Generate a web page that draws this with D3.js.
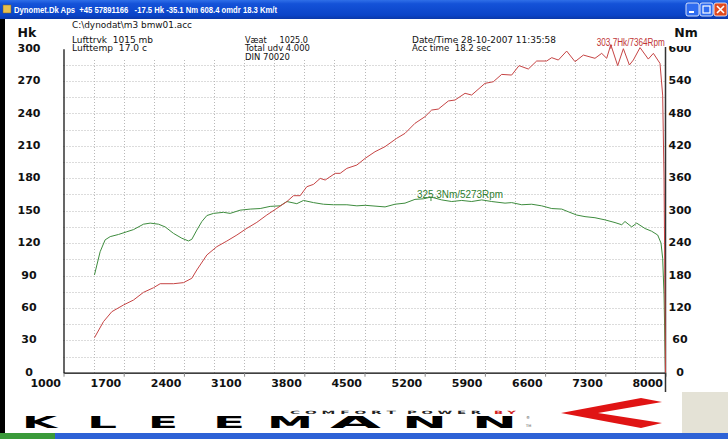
<!DOCTYPE html>
<html>
<head>
<meta charset="utf-8">
<script src="https://cdn.jsdelivr.net/npm/d3@7"></script>
<style>
  html, body { margin: 0; padding: 0; background: #fff; }
  svg { display: block; }
  text { white-space: pre; }
</style>
</head>
<body>
<svg id="chart" width="728" height="439"></svg>
<script>
// ---------------- DATA ----------------
const titleText = "Dynomet.Dk Aps  +45 57891166   -17.5 Hk -35.1 Nm 608.4 omdr 18.3 Km/t";
const fileName = "C:\\dynodat\\m3 bmw01.acc";

const xTicks = [1000, 1700, 2400, 3100, 3800, 4500, 5200, 5900, 6600, 7300, 8000];
const hkTicks = [0, 30, 60, 90, 120, 150, 180, 210, 240, 270, 300];
const nmTicks = [0, 60, 120, 180, 240, 300, 360, 420, 480, 540, 600];

const powerRpm = [1360,1465,1562,1698,1814,1930,2047,2124,2279,2395,2492,2550,2667,2783,2899,3016,3132,3248,3364,3481,3597,3674,3752,3829,3907,3985,4043,4159,4217,4295,4411,4508,4622,4739,4874,4971,5087,5204,5281,5359,5475,5553,5669,5746,5901,5998,6095,6211,6297,6405,6502,6618,6677,6754,6851,6948,7045,7180,7258,7316,7364,7444,7510,7580,7626,7704,7800,7859,7936,7967,7983,7995,8000];
const powerHk = [32.4,47.3,56.5,62.7,67.3,74.4,78.7,82.4,82.4,83.4,87.4,95.1,109,116.7,121.9,127.5,133.7,139.2,146,152.2,158.4,163.9,163.9,172.2,174.4,179.9,178.4,184.6,184.6,189.2,192.3,198.5,204.6,209.3,217,221.6,230.9,237.1,243.2,244.1,251.6,252.5,258.7,257.1,267.9,269.4,276.2,275.6,284.3,281.2,288.6,288.6,291.7,289.5,297.8,288,294.1,291.1,295.7,291.1,303.7,284.3,300,284.9,289.5,301,290.4,295.7,286.4,257,180,60,0];

const torqueRpm = [1360,1426,1484,1543,1640,1736,1814,1930,2008,2105,2182,2279,2376,2453,2492,2550,2609,2667,2744,2860,2938,3054,3171,3287,3403,3519,3597,3713,3791,3907,4023,4140,4295,4411,4508,4739,4855,4971,5087,5184,5273,5397,5514,5630,5746,5863,5979,6134,6211,6328,6444,6560,6677,6793,6870,6967,7064,7180,7297,7413,7491,7529,7607,7665,7762,7839,7909,7948,7967,7983,7995,8000];
const torqueNm = [181,224,246,252,256,261,265,275,277,275,270,258,249,244,247,264,280,291,295,297,295,301,303,304,308,309,317,313,319,315,312,311,311,309,310,307,312,314,321,322,325.3,320,317,319,317,320,317,314,315,311,312,309,304,303,298,292,289,287,283,278,274,280,270,277,267,262,255,240,212,144,40,0];

const peakPower = {rpm: 7364, value: 303.7, label: "303.7Hk/7364Rpm"};
const peakTorque = {rpm: 5273, value: 325.3, label: "325.3Nm/5273Rpm"};

const headerLines = [
  {x: 72,  y: 28, t: fileName, w: 120},
  {x: 72,  y: 43, t: "Lufttrvk  1015 mb", w: 81},
  {x: 72,  y: 51, t: "Lufttemp  17.0 c", w: 75},
  {x: 245, y: 43, t: "Væat     1025.0", w: 63},
  {x: 245, y: 51, t: "Total udv 4.000", w: 65},
  {x: 245, y: 60, t: "DIN 70020", w: 45},
  {x: 412, y: 43, t: "Date/Time 28-10-2007 11:35:58", w: 144},
  {x: 412, y: 51, t: "Acc time  18.2 sec", w: 79}
];

const logoLetters = [
  {t: "K", x: 22, w: 35}, {t: "L", x: 87, w: 30}, {t: "E", x: 148, w: 30},
  {t: "E", x: 213, w: 32}, {t: "M", x: 267, w: 46}, {t: "A", x: 330, w: 51},
  {t: "N", x: 402, w: 45}, {t: "N", x: 472, w: 45}
];

// ---------------- DRAW ----------------
const svg = d3.select("#chart");
const W = 728, H = 439;

const x = d3.scaleLinear().domain([1000, 8000]).range([63.5, 665.5]);
const yHk = d3.scaleLinear().domain([0, 300]).range([372.7, 48.7]);
const yNm = d3.scaleLinear().domain([0, 600]).range([372.7, 48.7]);

svg.append("rect").attr("width", W).attr("height", H).attr("fill", "#fff");

// Title bar
const defs = svg.append("defs");
const tg = defs.append("linearGradient").attr("id", "tb").attr("x1", 0).attr("y1", 0).attr("x2", 0).attr("y2", 1);
tg.append("stop").attr("offset", "0%").attr("stop-color", "#2f6fe8");
tg.append("stop").attr("offset", "20%").attr("stop-color", "#1452d8");
tg.append("stop").attr("offset", "80%").attr("stop-color", "#0a44c8");
tg.append("stop").attr("offset", "100%").attr("stop-color", "#0a38a8");
svg.append("rect").attr("x", 0).attr("y", 0).attr("width", W).attr("height", 19).attr("fill", "url(#tb)");
svg.append("rect").attr("x", 3).attr("y", 5).attr("width", 8).attr("height", 8).attr("fill", "#e8c050").attr("stroke", "#806020").attr("stroke-width", 0.5);
svg.append("text").attr("x", 14).attr("y", 12.5)
  .attr("font-family", "Liberation Sans, Arial, sans-serif").attr("font-weight", "bold")
  .attr("font-size", 8.5).attr("fill", "#fff")
  .attr("textLength", 263).attr("lengthAdjust", "spacingAndGlyphs")
  .text(titleText);
const btns = [{x: 686, c: "#2f6cf0"}, {x: 700, c: "#2f6cf0"}, {x: 714, c: "#e04a20"}];
btns.forEach(b => {
  svg.append("rect").attr("x", b.x).attr("y", 3).attr("width", 13).attr("height", 13).attr("rx", 2)
    .attr("fill", b.c).attr("stroke", "#fff").attr("stroke-width", 0.8);
});
svg.append("rect").attr("x", 689).attr("y", 11).attr("width", 5).attr("height", 2).attr("fill", "#fff");
svg.append("rect").attr("x", 703).attr("y", 6).attr("width", 7).attr("height", 7).attr("fill", "none").attr("stroke", "#fff").attr("stroke-width", 1.2);
svg.append("path").attr("d", "M717,6 L724,13 M724,6 L717,13").attr("stroke", "#fff").attr("stroke-width", 1.6);

svg.append("rect").attr("x", 0).attr("y", 19).attr("width", 5).attr("height", 416).attr("fill", "#000");

// header texts
svg.append("g").selectAll("text").data(headerLines).join("text")
  .attr("x", d => d.x).attr("y", d => d.y)
  .attr("font-family", "DejaVu Sans, Verdana, sans-serif").attr("font-size", 8)
  .attr("fill", "#111")
  .attr("textLength", d => d.w).attr("lengthAdjust", "spacingAndGlyphs")
  .text(d => d.t);

// grid
const grid = svg.append("g").attr("stroke", "#b8b8b8").attr("stroke-width", 1).attr("stroke-dasharray", "1,2");
const hGrid = d3.range(15, 300, 15);
grid.selectAll("line.h").data(hGrid).join("line").attr("class", "h")
  .attr("x1", x(1000)).attr("x2", x(8000))
  .attr("y1", d => Math.round(yHk(d)) + 0.5).attr("y2", d => Math.round(yHk(d)) + 0.5);
const vGrid = d3.range(1350, 8000, 350);
grid.selectAll("line.v").data(vGrid).join("line").attr("class", "v")
  .attr("x1", d => Math.round(x(d)) + 0.5).attr("x2", d => Math.round(x(d)) + 0.5)
  .attr("y1", 60).attr("y2", yHk(0));

// axes
const lblFont = "DejaVu Sans, Verdana, sans-serif";
const xAxis = svg.append("g").attr("transform", `translate(0,${yHk(0)})`)
  .call(d3.axisBottom(x).tickValues(xTicks).tickSize(4).tickSizeOuter(0).tickFormat(d3.format("d")));
xAxis.select(".domain").attr("stroke", "#000").attr("stroke-width", 1.2);
xAxis.selectAll(".tick line").attr("stroke", "#888");
xAxis.selectAll(".tick text")
  .attr("x", -3).attr("y", 14.5).attr("dy", 0).attr("text-anchor", "end")
  .attr("font-family", lblFont).attr("font-weight", "bold").attr("font-size", 11).attr("fill", "#111");

const yAxisL = svg.append("g").attr("transform", `translate(${x(1000)},0)`)
  .call(d3.axisLeft(yHk).tickValues(hkTicks).tickSize(0).tickSizeOuter(0));
yAxisL.select(".domain").attr("stroke", "#000").attr("stroke-width", 1.2);
yAxisL.selectAll(".tick text")
  .attr("x", 29 - x(1000)).attr("y", -1).attr("text-anchor", "middle")
  .attr("font-family", lblFont).attr("font-weight", "bold").attr("font-size", 11).attr("fill", "#111");

const yAxisR = svg.append("g").attr("transform", `translate(${x(8000)},0)`)
  .call(d3.axisRight(yNm).tickValues(nmTicks).tickSize(0).tickSizeOuter(0));
yAxisR.select(".domain").attr("stroke", "none");
yAxisR.selectAll(".tick text")
  .attr("x", 680 - x(8000)).attr("y", -1).attr("text-anchor", "middle")
  .attr("font-family", lblFont).attr("font-weight", "bold").attr("font-size", 11).attr("fill", "#111");

// axis titles
svg.append("text").attr("x", 27).attr("y", 37).attr("text-anchor", "middle")
  .attr("font-family", lblFont).attr("font-weight", "bold").attr("font-size", 12.5).attr("fill", "#111").text("Hk");
svg.append("text").attr("x", 686).attr("y", 37).attr("text-anchor", "middle")
  .attr("font-family", lblFont).attr("font-weight", "bold").attr("font-size", 12.5).attr("fill", "#111").text("Nm");

// white box behind the power peak label (hides the top of the "600" label as in the source)
svg.append("rect").attr("x", 596).attr("y", 37.5).attr("width", 96).attr("height", 8.5).attr("fill", "#fff");

svg.append("line").attr("x1", x(8000)).attr("x2", x(8000)).attr("y1", 47).attr("y2", 392)
  .attr("stroke", "#333").attr("stroke-width", 1.5);

// curves
const powerData = powerRpm.map((r, i) => ({r, v: powerHk[i]}));
const torqueData = torqueRpm.map((r, i) => ({r, v: torqueNm[i]}));
const redC = "#c64444", greenC = "#3e8c3e";

svg.append("path").datum(torqueData)
  .attr("d", d3.line().x(d => x(d.r)).y(d => yNm(d.v)))
  .attr("fill", "none").attr("stroke", greenC).attr("stroke-width", 1);
svg.append("path").datum(powerData)
  .attr("d", d3.line().x(d => x(d.r)).y(d => yHk(d.v)))
  .attr("fill", "none").attr("stroke", redC).attr("stroke-width", 1);

// peak markers + labels
const px = x(peakPower.rpm), py = yHk(peakPower.value);
svg.append("line").attr("x1", px).attr("x2", px).attr("y1", py).attr("y2", py + 4).attr("stroke", redC);
svg.append("text").attr("x", px - 14).attr("y", 45.5)
  .attr("font-family", "Liberation Sans, Arial, sans-serif").attr("font-size", 10).attr("fill", "#c03434")
  .attr("textLength", 68).attr("lengthAdjust", "spacingAndGlyphs").text(peakPower.label);

const tx = x(peakTorque.rpm), ty = yNm(peakTorque.value);
svg.append("line").attr("x1", tx).attr("x2", tx).attr("y1", ty).attr("y2", ty + 4).attr("stroke", greenC);
svg.append("text").attr("x", tx - 14).attr("y", 198)
  .attr("font-family", "Liberation Sans, Arial, sans-serif").attr("font-size", 10).attr("fill", "#2e7d2e")
  .attr("textLength", 86).attr("lengthAdjust", "spacingAndGlyphs").text(peakTorque.label);

// ---------------- LOGO ----------------
svg.append("g").selectAll("text").data(logoLetters).join("text")
  .attr("x", d => d.x).attr("y", 427.5)
  .attr("font-family", "DejaVu Sans, Arial, sans-serif").attr("font-weight", "bold").attr("font-size", 16)
  .attr("fill", "#000").attr("textLength", d => d.w).attr("lengthAdjust", "spacingAndGlyphs")
  .text(d => d.t);

const smallFont = "DejaVu Sans, Arial, sans-serif";
[{t: "C O M F O R T", x: 290, w: 106, c: "#222"},
 {t: "P O W E R", x: 407, w: 74, c: "#222"},
 {t: "B Y", x: 494, w: 22, c: "#d02020"}].forEach(s => {
  svg.append("text").attr("x", s.x).attr("y", 413.5)
    .attr("font-family", smallFont).attr("font-weight", "bold").attr("font-size", 4.5)
    .attr("fill", s.c).attr("textLength", s.w).attr("lengthAdjust", "spacingAndGlyphs").text(s.t);
});
svg.append("text").attr("x", 526).attr("y", 419).attr("font-family", smallFont).attr("font-size", 4).attr("fill", "#444").text("®");
svg.append("text").attr("x", 526).attr("y", 427).attr("font-family", smallFont).attr("font-size", 3.5).attr("fill", "#444").text("TM");

svg.append("path")
  .attr("d", "M561,413 L641,398 L662,402 L598,413 L662,423 L641,428 Z")
  .attr("fill", "#e01414");

svg.append("rect").attr("x", 682).attr("y", 392).attr("width", 46).attr("height", 41).attr("fill", "#e4e2d6");
svg.append("rect").attr("x", 0).attr("y", 433).attr("width", W).attr("height", 6).attr("fill", "#2d62d6");
svg.append("rect").attr("x", 0).attr("y", 433).attr("width", 55).attr("height", 6).attr("fill", "#3a9a3a");
</script>
</body>
</html>
